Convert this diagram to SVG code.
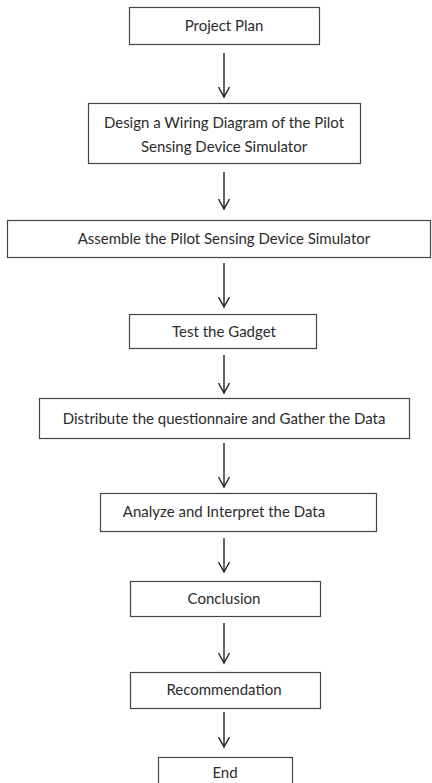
<svg xmlns="http://www.w3.org/2000/svg" width="432" height="783" viewBox="0 0 432 783">
<style>
.box{fill:#ffffff;stroke:#444444;stroke-width:1.2}
.lbl{font-family:Lato,"Open Sans","DejaVu Sans",sans-serif;font-size:15px;fill:#2b2b2b;text-anchor:middle}
.arr{stroke:#222222;stroke-width:1.4;fill:none}
</style>
<defs>
<marker id="ah" markerWidth="12" markerHeight="12" refX="10" refY="6" orient="auto" markerUnits="userSpaceOnUse">
<path d="M0,0.5 L10,6 L0,11.5" fill="none" stroke="#222222" stroke-width="1.4"/>
</marker>
</defs>
<rect width="432" height="783" fill="#ffffff"/>
<g id="connectors">
<line class="arr" x1="224" y1="53" x2="224" y2="97" marker-end="url(#ah)"/>
<line class="arr" x1="224" y1="172" x2="224" y2="209" marker-end="url(#ah)"/>
<line class="arr" x1="224" y1="263" x2="224" y2="307" marker-end="url(#ah)"/>
<line class="arr" x1="224" y1="355" x2="224" y2="393" marker-end="url(#ah)"/>
<line class="arr" x1="224" y1="443" x2="224" y2="487" marker-end="url(#ah)"/>
<line class="arr" x1="224" y1="538" x2="224" y2="572" marker-end="url(#ah)"/>
<line class="arr" x1="224" y1="623" x2="224" y2="663" marker-end="url(#ah)"/>
<line class="arr" x1="224" y1="712" x2="224" y2="747" marker-end="url(#ah)"/>
</g>
<g id="n1"><rect class="box" x="129.5" y="7.5" width="190" height="37"/><text class="lbl" x="224" y="31">Project Plan</text></g>
<g id="n2"><rect class="box" x="88.5" y="103.5" width="272" height="60"/><text class="lbl" x="224" y="128">Design a Wiring Diagram of the Pilot</text><text class="lbl" x="224" y="152">Sensing Device Simulator</text></g>
<g id="n3"><rect class="box" x="7.5" y="220.5" width="423" height="37"/><text class="lbl" x="224" y="244">Assemble the Pilot Sensing Device Simulator</text></g>
<g id="n4"><rect class="box" x="129.5" y="314.5" width="187" height="34"/><text class="lbl" x="224" y="337">Test the Gadget</text></g>
<g id="n5"><rect class="box" x="39.5" y="398.5" width="370" height="40"/><text class="lbl" x="224" y="424">Distribute the questionnaire and Gather the Data</text></g>
<g id="n6"><rect class="box" x="100.5" y="493.5" width="276" height="38"/><text class="lbl" x="224" y="517">Analyze and Interpret the Data</text></g>
<g id="n7"><rect class="box" x="130.5" y="581.5" width="190" height="35"/><text class="lbl" x="224" y="604">Conclusion</text></g>
<g id="n8"><rect class="box" x="130.5" y="672.5" width="190" height="36"/><text class="lbl" x="224" y="695">Recommendation</text></g>
<g id="n9"><rect class="box" x="158.5" y="757.5" width="134" height="32"/><text class="lbl" x="225" y="778">End</text></g>
</svg>
